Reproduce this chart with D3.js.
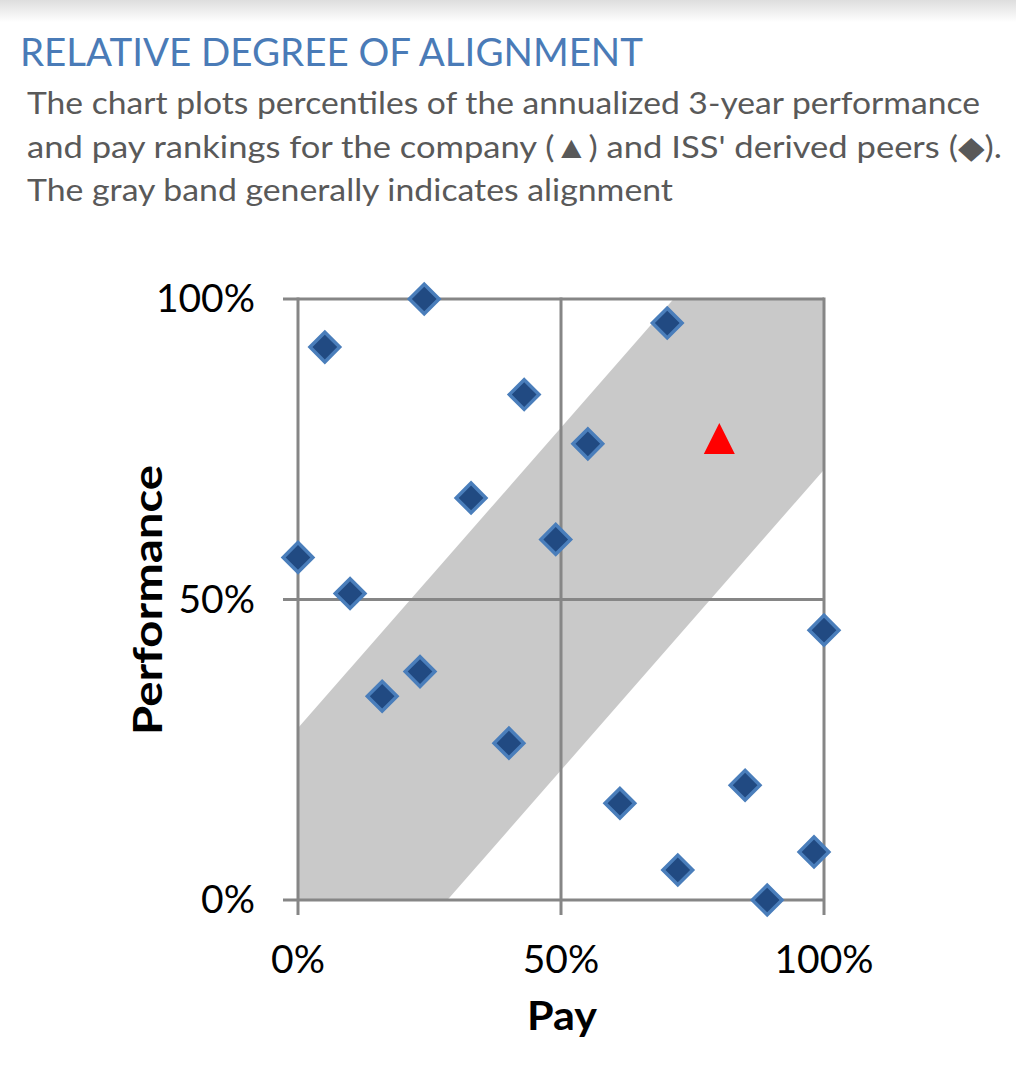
<!DOCTYPE html>
<html>
<head>
<meta charset="utf-8">
<script src="https://cdn.jsdelivr.net/npm/d3@7"></script>
<style>
  html, body { margin: 0; padding: 0; background: #fff; }
  svg { display: block; }
</style>
</head>
<body>
<svg id="chart" width="1016" height="1084"></svg>
<script>
// ---- data ----
const peerPay  = [24.0, 5.1, 70.2, 43.0, 55.1, 32.9, 49.0, 0.0, 9.9, 100.0, 23.2, 16.0, 40.1, 61.2, 85.0, 72.2, 98.1, 89.2];
const peerPerf = [100.0, 92.0, 96.0, 84.1, 75.9, 66.9, 60.0, 57.0, 51.0, 44.9, 38.0, 33.9, 26.1, 16.1, 19.1, 5.0, 8.0, 0.0];
const companyPay  = [80.1];
const companyPerf = [76.8];
const bandPay  = [0, 28.4, 100, 100, 71.4, 0];
const bandPerf = [0, 0, 71.6, 100, 100, 28.6];
const tickValues = [0, 50, 100];
const tickLabels = ["0%", "50%", "100%"];
const titleText = "RELATIVE DEGREE OF ALIGNMENT";
const subtitleLines = [
  "The chart plots percentiles of the annualized 3-year performance",
  "and pay rankings for the company (\u25B2) and ISS' derived peers (\u25C6).",
  "The gray band generally indicates alignment"
];
const xTitle = "Pay";
const yTitle = "Performance";

// ---- drawing ----
const svg = d3.select("#chart");
const font = "Lato, 'Open Sans', sans-serif";

// top shadow
const defs = svg.append("defs");
const grad = defs.append("linearGradient").attr("id", "topShade")
  .attr("x1", 0).attr("y1", 0).attr("x2", 0).attr("y2", 1);
grad.append("stop").attr("offset", "0%").attr("stop-color", "#dedede");
grad.append("stop").attr("offset", "100%").attr("stop-color", "#ffffff");
svg.append("rect").attr("x", 0).attr("y", 0).attr("width", 1016).attr("height", 22)
  .attr("fill", "url(#topShade)");

// title
svg.append("text").attr("x", 20).attr("y", 66)
  .attr("font-family", font).attr("font-size", 38).attr("fill", "#4a7bb7")
  .attr("textLength", 623).attr("lengthAdjust", "spacingAndGlyphs")
  .text(titleText);

const subWidths = [953, 975, 646];
const subBase = [114, 158, 201];
subtitleLines.forEach((t, i) => {
  svg.append("text").attr("x", 27).attr("y", subBase[i])
    .attr("font-family", font).attr("font-size", 31).attr("fill", "#595959")
    .attr("textLength", subWidths[i]).attr("lengthAdjust", "spacingAndGlyphs")
    .text(t);
});

// scales
const x = d3.scaleLinear().domain([0, 100]).range([298, 824]);
const y = d3.scaleLinear().domain([0, 100]).range([900, 299]);

// band
const bandPts = bandPay.map((p, i) => [x(p), y(bandPerf[i])]);
svg.append("path")
  .attr("d", d3.line()(bandPts) + "Z")
  .attr("fill", "#c9c9c9");

const gridColor = "#868686";
// horizontal gridlines (with left tick)
const g = svg.append("g");
g.selectAll("line.h").data(tickValues).join("line")
  .attr("x1", x(0) - 15).attr("x2", x(100))
  .attr("y1", d => y(d)).attr("y2", d => y(d))
  .attr("stroke", gridColor).attr("stroke-width", 3);
// vertical gridlines (with bottom tick)
g.selectAll("line.v").data(tickValues).join("line")
  .attr("x1", d => x(d)).attr("x2", d => x(d))
  .attr("y1", y(100) - 1.5).attr("y2", y(0) + 15)
  .attr("stroke", gridColor).attr("stroke-width", 3);

// tick labels
svg.selectAll("text.yt").data(tickValues).join("text")
  .attr("x", 255).attr("y", d => y(d) + 13)
  .attr("text-anchor", "end")
  .attr("font-family", font).attr("font-size", 39).attr("fill", "#000")
  .text((d, i) => tickLabels[i]);
svg.selectAll("text.xt").data(tickValues).join("text")
  .attr("x", d => x(d)).attr("y", 973)
  .attr("text-anchor", "middle")
  .attr("font-family", font).attr("font-size", 39).attr("fill", "#000")
  .text((d, i) => tickLabels[i]);

// axis titles
svg.append("text").attr("x", 562).attr("y", 1030)
  .attr("text-anchor", "middle")
  .attr("font-family", font).attr("font-weight", "bold").attr("font-size", 40).attr("fill", "#000")
  .attr("textLength", 70).attr("lengthAdjust", "spacingAndGlyphs")
  .text(xTitle);
svg.append("text")
  .attr("transform", "translate(162,600) rotate(-90)")
  .attr("text-anchor", "middle")
  .attr("font-family", font).attr("font-weight", "bold").attr("font-size", 40).attr("fill", "#000")
  .attr("textLength", 270).attr("lengthAdjust", "spacingAndGlyphs")
  .text(yTitle);

// peers
const diamond = d3.symbol(d3.symbolSquare, 440);
svg.selectAll("path.peer").data(peerPay.map((p, i) => [p, peerPerf[i]])).join("path")
  .attr("transform", d => `translate(${x(d[0])},${y(d[1])}) rotate(45)`)
  .attr("d", diamond())
  .attr("fill", "#214a82")
  .attr("stroke", "#4a7ebb").attr("stroke-width", 3.5);

// company triangle
const tri = { draw(ctx, size) { const w = 15.5, h = 15.5; ctx.moveTo(0, -h); ctx.lineTo(w, h); ctx.lineTo(-w, h); ctx.closePath(); } };
svg.selectAll("path.co").data(companyPay.map((p, i) => [p, companyPerf[i]])).join("path")
  .attr("transform", d => `translate(${x(d[0])},${y(d[1])})`)
  .attr("d", d3.symbol(tri, 1)())
  .attr("fill", "#ff0000");
</script>
</body>
</html>
